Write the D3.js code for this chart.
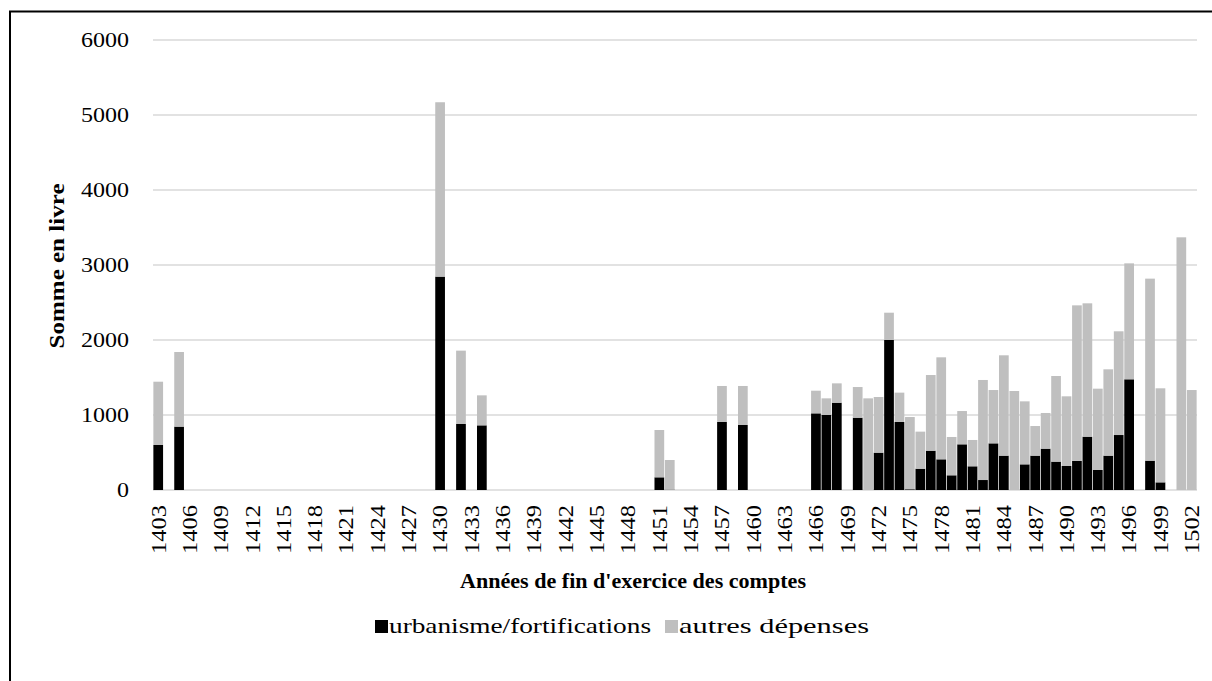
<!DOCTYPE html>
<html>
<head>
<meta charset="utf-8">
<script src="https://cdn.jsdelivr.net/npm/d3@7"></script>
<style>
  html, body { margin: 0; padding: 0; background: #fff; }
  svg { display: block; }
</style>
</head>
<body>
<svg id="chart" width="1212" height="681"></svg>
<script>
// Years (categories) 1403..1502
const years = [
  1403,1404,1405,1406,1407,1408,1409,1410,1411,1412,1413,1414,1415,1416,1417,1418,1419,1420,1421,1422,
  1423,1424,1425,1426,1427,1428,1429,1430,1431,1432,1433,1434,1435,1436,1437,1438,1439,1440,1441,1442,
  1443,1444,1445,1446,1447,1448,1449,1450,1451,1452,1453,1454,1455,1456,1457,1458,1459,1460,1461,1462,
  1463,1464,1465,1466,1467,1468,1469,1470,1471,1472,1473,1474,1475,1476,1477,1478,1479,1480,1481,1482,
  1483,1484,1485,1486,1487,1488,1489,1490,1491,1492,1493,1494,1495,1496,1497,1498,1499,1500,1501,1502
];
// urbanisme/fortifications
const urbanisme = [
  600,0,845,0,0,0,0,0,0,0,0,0,0,0,0,0,0,0,0,0,
  0,0,0,0,0,0,0,2845,0,880,0,862,0,0,0,0,0,0,0,0,
  0,0,0,0,0,0,0,0,169,5,0,0,0,0,907,0,867,0,0,0,
  0,0,0,1022,1000,1164,0,964,0,498,2000,907,10,284,524,409,196,609,316,133,
  622,458,0,342,458,551,378,320,387,711,267,458,733,1476,0,391,102,0,0,0
];
// autres dépenses
const autres = [
  844,0,995,0,0,0,0,0,0,0,0,0,0,0,0,0,0,0,0,0,
  0,0,0,0,0,0,0,2325,0,978,0,400,0,0,0,0,0,0,0,0,
  0,0,0,0,0,0,0,0,631,395,0,0,0,0,480,0,520,0,0,0,
  0,0,0,302,222,258,0,409,1222,742,364,391,963,494,1009,1360,511,444,351,1334,
  711,1338,1320,840,395,476,1142,929,2075,1778,1084,1151,1383,1546,0,2427,1254,0,3369,1333
];
const seriesNames = ["urbanisme/fortifications", "autres dépenses"];
const seriesColors = ["#000000", "#bfbfbf"];
const yTicks = [0, 1000, 2000, 3000, 4000, 5000, 6000];
const xTickLabels = years.filter((d, i) => i % 3 === 0);

const FONT = '"Liberation Serif"';
const svg = d3.select("#chart");

// frame
svg.append("rect").attr("x", 10).attr("y", 11.5).attr("width", 1260).attr("height", 720)
  .attr("fill", "none").attr("stroke", "#000").attr("stroke-width", 2);

const x = d3.scaleBand().domain(years).range([153, 1197]).paddingInner(0.07).paddingOuter(0.035);
const y = d3.scaleLinear().domain([0, 6000]).range([490, 40]);

// gridlines
svg.append("g").selectAll("line").data(yTicks).join("line")
  .attr("x1", 153).attr("x2", 1197)
  .attr("y1", d => y(d)).attr("y2", d => y(d))
  .attr("stroke", "#d9d9d9").attr("stroke-width", 1.5);

// stacked data
const rows = years.map((yr, i) => ({ year: yr, u: urbanisme[i], a: autres[i] }));
const stack = d3.stack().keys(["u", "a"])(rows);

svg.append("g").selectAll("g").data(stack).join("g")
  .attr("fill", (d, i) => seriesColors[i])
  .selectAll("rect").data(d => d).join("rect")
  .attr("x", d => x(d.data.year))
  .attr("width", x.bandwidth())
  .attr("y", d => y(d[1]))
  .attr("height", d => Math.max(0, y(d[0]) - y(d[1])));

// y axis labels
const yAxis = d3.axisLeft(y).tickValues(yTicks).tickSize(0).tickPadding(0).tickFormat(d3.format("d"));
const gy = svg.append("g").attr("transform", "translate(129,0)").call(yAxis);
gy.select(".domain").remove();
gy.selectAll("text")
  .style("font-family", FONT).style("font-size", "21px").attr("fill", "#000")
  .attr("textLength", d => 12 * String(d).length).attr("lengthAdjust", "spacingAndGlyphs");

// x axis labels
const xAxis = d3.axisBottom(x).tickValues(xTickLabels).tickSize(0).tickPadding(0);
const gx = svg.append("g").attr("transform", "translate(0,490)").call(xAxis);
gx.select(".domain").remove();
gx.selectAll("text")
  .style("font-family", FONT).style("font-size", "21px").attr("fill", "#000")
  .attr("text-anchor", "end")
  .attr("transform", "rotate(-90)")
  .attr("x", -15).attr("y", 0).attr("dy", "0.35em")
  .attr("textLength", 49).attr("lengthAdjust", "spacingAndGlyphs");

// axis titles
svg.append("text").attr("x", 633).attr("y", 588).attr("text-anchor", "middle")
  .style("font-family", FONT).style("font-size", "21px").style("font-weight", "bold")
  .attr("textLength", 346).attr("lengthAdjust", "spacingAndGlyphs")
  .text("Années de fin d'exercice des comptes");
svg.append("text").attr("transform", "translate(64,266) rotate(-90)").attr("text-anchor", "middle")
  .style("font-family", FONT).style("font-size", "21px").style("font-weight", "bold")
  .attr("textLength", 165).attr("lengthAdjust", "spacingAndGlyphs")
  .text("Somme en livre");

// legend
const legendX = [375, 665];
const legendW = [262, 190];
const lg = svg.append("g").selectAll("g").data(seriesNames).join("g")
  .attr("transform", (d, i) => `translate(${legendX[i]},0)`);
lg.append("rect").attr("x", 0).attr("y", 620).attr("width", 13).attr("height", 13)
  .attr("fill", (d, i) => seriesColors[i]);
lg.append("text").attr("x", 14).attr("y", 633)
  .style("font-family", FONT).style("font-size", "21px")
  .attr("textLength", (d, i) => legendW[i]).attr("lengthAdjust", "spacingAndGlyphs")
  .text(d => d);
</script>
</body>
</html>
